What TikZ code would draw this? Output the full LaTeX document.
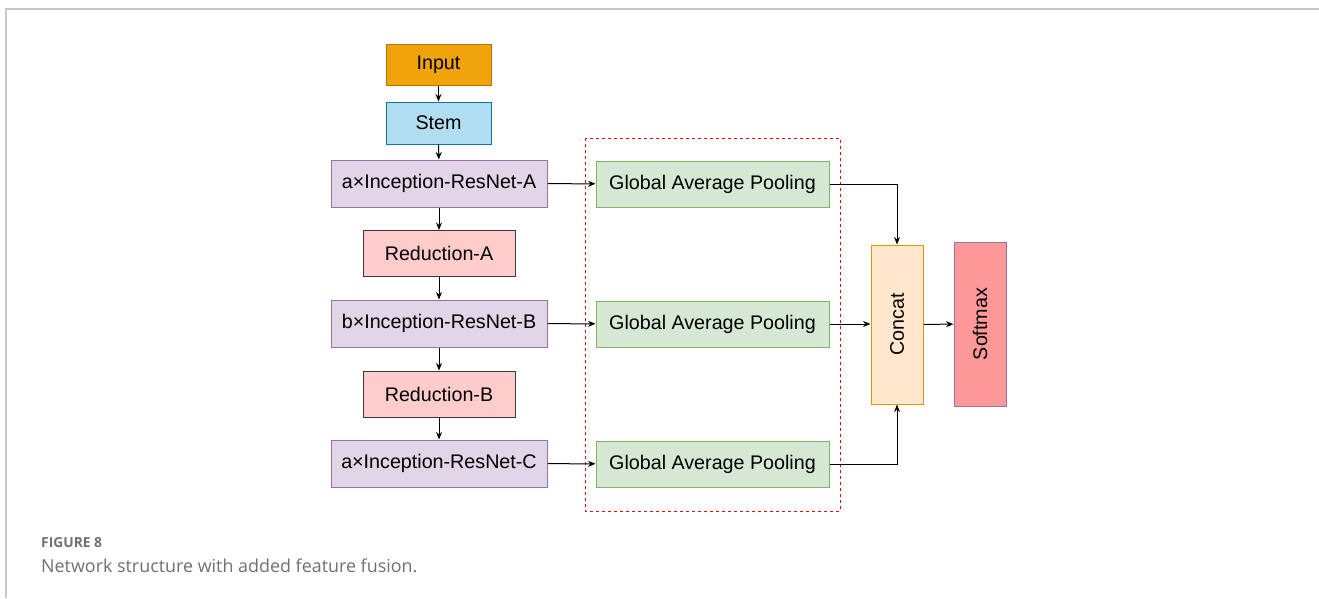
\documentclass[tikz,border=0pt]{standalone}
\usepackage{fontspec}
\setmainfont{Liberation Sans}
\newfontfamily\capfont{Open Sans}
\usetikzlibrary{arrows.meta,positioning}

\definecolor{inputfill}{HTML}{F0A30A}
\definecolor{inputdraw}{HTML}{BD7000}
\definecolor{stemfill}{HTML}{B1DDF0}
\definecolor{stemdraw}{HTML}{10739E}
\definecolor{incfill}{HTML}{E1D5E7}
\definecolor{incdraw}{HTML}{9673A6}
\definecolor{redfill}{HTML}{FFCCCC}
\definecolor{reddraw}{HTML}{36393D}
\definecolor{gapfill}{HTML}{D5E8D4}
\definecolor{gapdraw}{HTML}{82B366}
\definecolor{catfill}{HTML}{FFE6CC}
\definecolor{catdraw}{HTML}{D79B00}
\definecolor{smfill}{HTML}{FF9999}
\definecolor{framegray}{HTML}{C8C8C8}
\definecolor{capgray}{HTML}{707070}

\tikzset{
  box/.style={draw, line width=1pt, inner sep=0pt, font=\fontsize{19.7}{22}\selectfont},
  inputbox/.style={box, fill=inputfill, draw=inputdraw, minimum width=105pt, minimum height=41pt},
  stembox/.style={box, fill=stemfill, draw=stemdraw, minimum width=105pt, minimum height=42pt},
  incbox/.style={box, fill=incfill, draw=incdraw, minimum width=216pt, minimum height=47pt},
  redbox/.style={box, fill=redfill, draw=reddraw, minimum width=152pt, minimum height=46pt},
  gapbox/.style={box, fill=gapfill, draw=gapdraw, minimum width=233pt, minimum height=46pt},
  catbox/.style={box, fill=catfill, draw=catdraw, minimum width=52pt, minimum height=159pt},
  smbox/.style={box, fill=smfill, draw=incdraw, minimum width=52pt, minimum height=164pt},
  arr/.style={-{Stealth[length=7.5pt,width=6pt]}, line width=1pt, black},
  fusion/.style={draw=red, line width=1pt, dash pattern=on 3pt off 3pt}
}

\begin{document}
\begin{tikzpicture}[x=1pt, y=-1pt]
  \useasboundingbox (0,0) rectangle (1319,598);
  % page frame
  \draw[framegray, line width=1.2pt] (6,598) -- (6,9) -- (1319,9);

  % backbone
  \node[inputbox] (input) at (438.5,64.5) {Input};
  \node[stembox]  (stem)  at (438.5,123) {Stem};
  \node[incbox]   (incA)  at (439,183.5) {a×Inception-ResNet-A};
  \node[redbox]   (redA)  at (439,253.5) {Reduction-A};
  \node[incbox]   (incB)  at (439,323.5) {b×Inception-ResNet-B};
  \node[redbox]   (redB)  at (439,394) {Reduction-B};
  \node[incbox]   (incC)  at (439,463.5) {a×Inception-ResNet-C};

  % feature fusion branch
  \draw[fusion] (585,138) rectangle (840,511);
  \node[gapbox] (gapA) at (712.5,184) {Global Average Pooling};
  \node[gapbox] (gapB) at (712.5,324) {Global Average Pooling};
  \node[gapbox] (gapC) at (712.5,464) {Global Average Pooling};

  \node[catbox] (concat)  at (897,324.5) {\rotatebox{90}{Concat}};
  \node[smbox]  (softmax) at (980,324) {\rotatebox{90}{Softmax}};

  % connectors
  \draw[arr] (input) -- (stem);
  \draw[arr] (stem) -- (incA);
  \draw[arr] (incA) -- (redA);
  \draw[arr] (redA) -- (incB);
  \draw[arr] (incB) -- (redB);
  \draw[arr] (redB) -- (incC);

  \draw[arr] (incA) -- (gapA);
  \draw[arr] (incB) -- (gapB);
  \draw[arr] (incC) -- (gapC);

  \draw[arr] (gapA.east) -| (concat.north);
  \draw[arr] (gapB.east) -- (concat.west |- gapB.east);
  \draw[arr] (gapC.east) -| (concat.south);
  \draw[arr] (concat) -- (softmax);

  % caption
  \node[anchor=base west, inner sep=0pt, text=capgray, font=\capfont\fontsize{13.8}{16}\selectfont\bfseries] (figno) at (41,547) {FIGURE 8};
  \node[anchor=base west, inner sep=0pt, text=capgray, font=\capfont\fontsize{17.9}{20}\selectfont] (figcap) at (41,572) {Network structure with added feature fusion.};
\end{tikzpicture}
\end{document}
